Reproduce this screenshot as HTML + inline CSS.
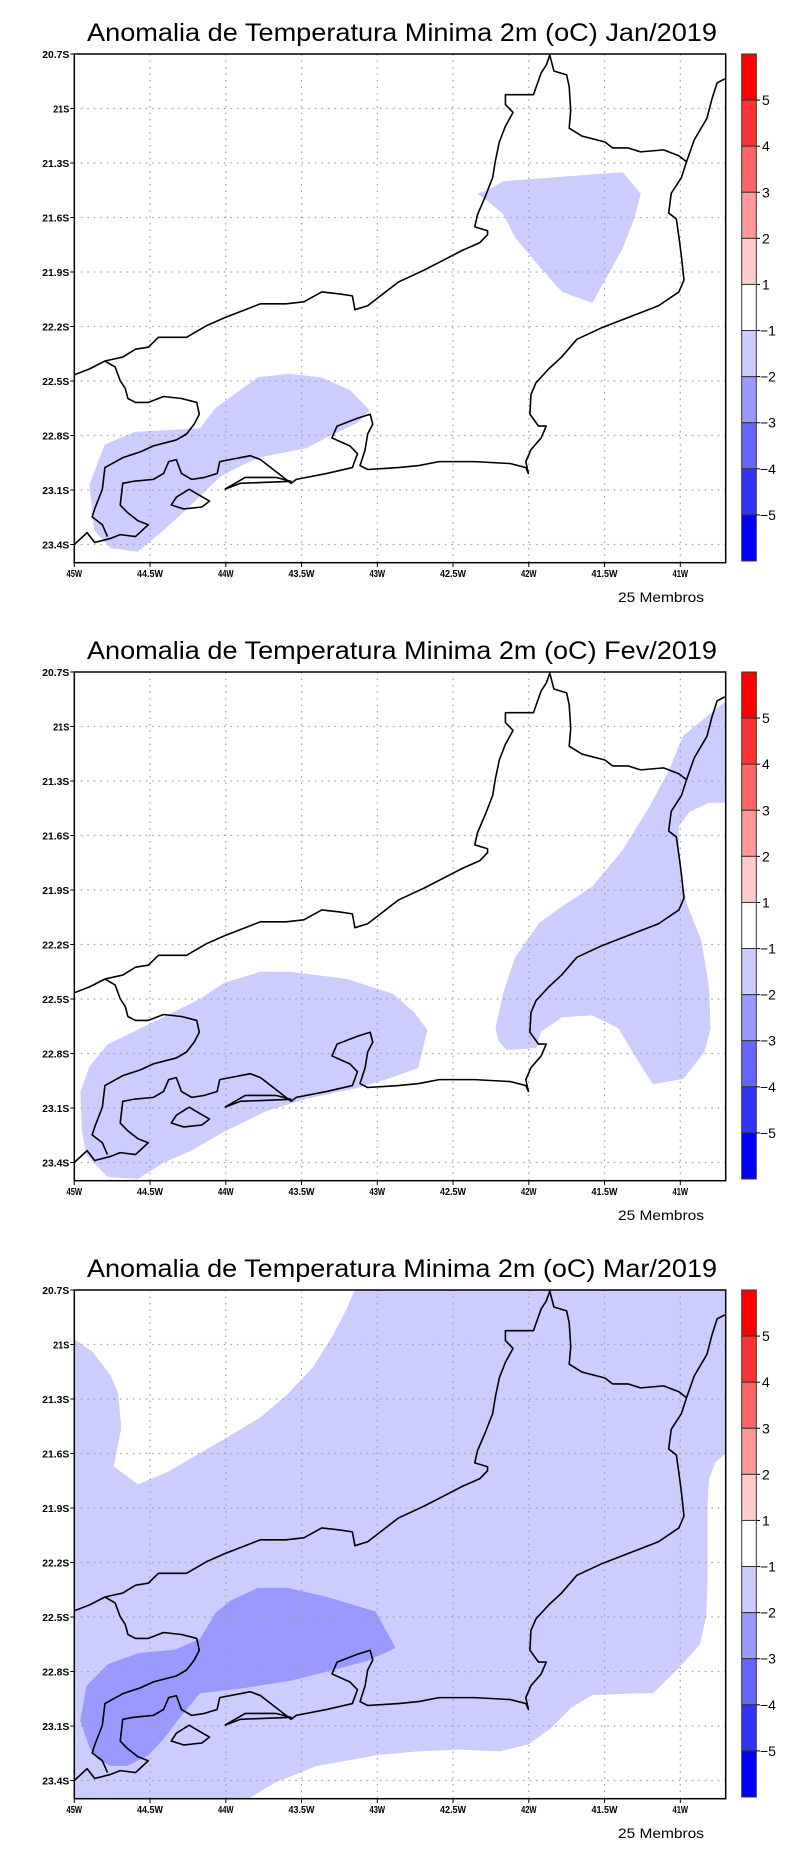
<!DOCTYPE html>
<html><head><meta charset="utf-8"><style>
html,body{margin:0;padding:0;background:#fff;}
svg{display:block;}
</style></head><body>
<svg id="chart" width="800" height="1854" viewBox="0 0 800 1854" xmlns="http://www.w3.org/2000/svg">
<defs>
<clipPath id="frameclip"><rect x="74.3" y="54" width="651.4" height="508.7"/></clipPath>
<g id="basemap" transform="translate(74.3,54) scale(0.5102,0.3946) translate(-145,-137)" fill="none" stroke="#000" stroke-width="1.6" stroke-linejoin="round">
<path vector-effect="non-scaling-stroke" d="M145,950 L175,935 205,915 240,905 265,885 290,880 310,855 365,855 405,825 440,805 490,780 510,770 560,770 595,765 630,740 665,745 690,750 695,785 720,775 745,750 780,715 830,685 875,655 905,635 940,615 955,595 955,585 930,575 935,545 950,500 965,450 970,410 978,360 990,320 1005,285 990,265 990,240 1020,240 1045,240 1060,185 1070,165 1077,140 1085,180 1110,190 1115,220 1118,280 1115,325 1140,345 1185,360 1200,375 1230,375 1255,385 1300,380 1330,395 1345,410 1335,450 1315,490 1310,540 1325,555 1330,600 1335,650 1340,710 1330,740 1290,775 1240,800 1180,830 1130,860 1100,905 1075,935 1050,970 1040,1000 1038,1050 1055,1080 1070,1080 1060,1110 1040,1140 1030,1170 1035,1200 1030,1185 1000,1175 930,1170 860,1170 820,1180 780,1185 720,1190 705,1180 715,1140 720,1100 730,1075 725,1050 700,1060 660,1080 650,1110 685,1130 700,1150 690,1185 640,1200 580,1215 570,1225 540,1195 510,1165 490,1155 470,1160 450,1165 430,1170 425,1200 400,1210 375,1215 355,1200 345,1165 330,1170 320,1200 300,1215 260,1220 240,1225 235,1280 250,1300 270,1320 290,1330 265,1360 235,1355 215,1365 185,1375 170,1350 145,1380"/>
<path vector-effect="non-scaling-stroke" d="M1420,200 L1405,210 1395,250 1385,300 1360,355 1345,410"/>
<path vector-effect="non-scaling-stroke" d="M205,915 L225,930 235,965 245,985 250,1010 265,1020 290,1020 320,1005 355,1010 385,1020 390,1050 380,1075 365,1100 345,1115 300,1130 275,1145 240,1160 205,1185 200,1240 185,1290 180,1310 200,1330 210,1360"/>
<path vector-effect="non-scaling-stroke" d="M440,1240 L460,1225 480,1210 540,1210 570,1220 470,1225 440,1240"/>
<path vector-effect="non-scaling-stroke" d="M345,1260 L370,1240 390,1255 410,1270 395,1285 360,1290 335,1280 Z"/>
</g>
</defs>
</svg>
<script>
// ---- data ----
const months = ["Jan/2019", "Fev/2019", "Mar/2019"];
const levelColors = ["#ccccff", "#9999ff"];
const colorbarColors = ["#ff0000","#ff3333","#ff6666","#ff9999","#ffcccc","#ffffff","#ccccff","#9999ff","#6666ff","#3333ff","#0000ff"];
const colorbarLabels = ["5","4","3","2","1","\u22121","\u22122","\u22123","\u22124","\u22125"];
const lonTicks = [-45,-44.5,-44,-43.5,-43,-42.5,-42,-41.5,-41];
const lonTickLabels = ["45W","44.5W","44W","43.5W","43W","42.5W","42W","41.5W","41W"];
const latTicks = [20.7,21,21.3,21.6,21.9,22.2,22.5,22.8,23.1,23.4];
const latTickLabels = ["20.7S","21S","21.3S","21.6S","21.9S","22.2S","22.5S","22.8S","23.1S","23.4S"];
const janLon1 = [-42.34,-42.27,-42.17,-41.38,-41.26,-41.31,-41.38,-41.48,-41.58,-41.78,-41.92,-42.09,-42.17,-42.27];
const janLat1 = [21.47,21.45,21.40,21.35,21.47,21.62,21.77,21.92,22.07,22.01,21.88,21.71,21.58,21.51];
const janLon2 = [-44.90,-44.80,-44.60,-44.17,-44.07,-43.79,-43.59,-43.37,-43.18,-43.05,-43.13,-43.33,-43.47,-43.77,-43.91,-44.04,-44.19,-44.29,-44.41,-44.58,-44.76,-44.87];
const janLat2 = [23.07,22.85,22.78,22.76,22.65,22.48,22.46,22.48,22.55,22.66,22.73,22.81,22.87,22.92,22.97,23.03,23.15,23.23,23.32,23.44,23.42,23.32];
const fevLon1 = [-44.95,-44.96,-44.90,-44.78,-44.51,-44.17,-44.01,-43.77,-43.57,-43.20,-42.90,-42.76,-42.67,-42.73,-42.93,-43.13,-43.47,-43.74,-44.01,-44.24,-44.41,-44.58,-44.78,-44.92];
const fevLat1 = [23.23,23.01,22.87,22.75,22.64,22.50,22.41,22.35,22.35,22.39,22.47,22.57,22.67,22.88,22.94,22.99,23.05,23.12,23.23,23.34,23.40,23.49,23.48,23.36];
const fevLon2 = [-42.22,-42.17,-42.09,-41.93,-41.78,-41.58,-41.38,-41.21,-41.08,-40.98,-40.79,-40.70,-40.70,-40.81,-40.94,-41.01,-41.01,-40.96,-40.86,-40.81,-40.80,-40.84,-40.98,-41.18,-41.28,-41.41,-41.58,-41.78,-41.92,-41.95,-42.15,-42.20];
const fevLat2 = [22.66,22.47,22.27,22.08,21.99,21.88,21.68,21.45,21.25,21.05,20.92,20.86,21.42,21.42,21.47,21.55,21.75,21.97,22.18,22.44,22.66,22.79,22.94,22.97,22.84,22.66,22.59,22.60,22.68,22.77,22.78,22.73];
const marLon0 = [-45,-40.70,-40.70,-45];
const marLat0 = [20.7,20.7,23.5,23.5];
const marLonW1 = [-45.00,-44.88,-44.76,-44.71,-44.69,-44.74,-44.58,-44.38,-44.01,-43.77,-43.60,-43.43,-43.30,-43.20,-43.15,-45.00];
const marLatW1 = [20.97,21.04,21.17,21.27,21.46,21.67,21.77,21.70,21.52,21.40,21.28,21.13,20.96,20.80,20.70,20.70];
const marLonW2 = [-40.70,-40.77,-40.81,-40.82,-40.82,-40.82,-40.83,-40.87,-41.01,-41.18,-41.28,-41.58,-41.72,-41.85,-42.00,-42.19,-42.46,-42.73,-43.00,-43.40,-43.67,-43.85,-40.70];
const marLatW2 = [21.60,21.65,21.74,21.87,22.04,22.30,22.50,22.65,22.78,22.92,22.92,22.93,23.00,23.11,23.20,23.24,23.23,23.24,23.26,23.32,23.41,23.50,23.50];
const marLon2 = [-44.96,-44.92,-44.78,-44.58,-44.34,-44.17,-44.07,-43.97,-43.79,-43.59,-43.33,-43.01,-42.88,-43.06,-43.33,-43.57,-43.87,-44.17,-44.29,-44.41,-44.51,-44.65,-44.76,-44.85,-44.90];
const marLat2 = [23.07,22.88,22.76,22.70,22.68,22.62,22.48,22.41,22.34,22.34,22.39,22.47,22.67,22.74,22.80,22.85,22.89,22.92,23.04,23.17,23.26,23.32,23.32,23.28,23.22];
const panelShapes = [
  [{lon:janLon1,lat:janLat1,level:0,name:"anomaly-area-north"},{lon:janLon2,lat:janLat2,level:0,name:"anomaly-area-southwest"}],
  [{lon:fevLon1,lat:fevLat1,level:0,name:"anomaly-area-southwest"},{lon:fevLon2,lat:fevLat2,level:0,name:"anomaly-area-east"}],
  [{lon:marLon0,lat:marLat0,level:0,name:"anomaly-area-background"},{lon:marLonW1,lat:marLatW1,level:-1,name:"neutral-area-northwest"},{lon:marLonW2,lat:marLatW2,level:-1,name:"neutral-area-southeast"},{lon:marLon2,lat:marLat2,level:1,name:"anomaly-area-southwest-strong"}]
];
const X0=74.3, PX_PER_DEG_LON=151.5, Y0=54, PX_PER_DEG_LAT=181.67;
function xOf(lon){return X0+(lon+45)*PX_PER_DEG_LON;}
function yOf(latS){return Y0+(latS-20.7)*PX_PER_DEG_LAT;}
const NS="http://www.w3.org/2000/svg";
const svg=document.getElementById("chart");
function mk(tag,attrs,parent){const e=document.createElementNS(NS,tag);for(const k in attrs)e.setAttribute(k,attrs[k]);parent.appendChild(e);return e;}
const FONT='"Liberation Sans", "DejaVu Sans", sans-serif';
const offsets=[0,618,1236];
months.forEach((m,pi)=>{
  const g=mk("g",{transform:"translate(0,"+offsets[pi]+")"},svg);
  
  
  const t=mk("text",{x:87,y:41,"font-family":FONT,"font-size":25,fill:"#000",textLength:630,lengthAdjust:"spacingAndGlyphs"},g);
  t.textContent="Anomalia de Temperatura Minima 2m (oC) "+m;
  
  
  const fills=mk("g",{"clip-path":"url(#frameclip)"},g);
  panelShapes[pi].forEach(s=>{
    const pts=s.lon.map((lo,i)=>xOf(lo).toFixed(1)+","+yOf(s.lat[i]).toFixed(1)).join(" ");
    const p=mk("polygon",{points:pts,fill:s.level<0?"#ffffff":levelColors[s.level]},fills);
    
    
  });
  const grid=mk("g",{stroke:"#a0a0a0","stroke-width":1.2,"stroke-dasharray":"1.5,5"},g);
  
  
  lonTicks.forEach((lo,i)=>{ if(i>0) mk("line",{x1:xOf(lo),x2:xOf(lo),y1:Y0,y2:562.7},grid); });
  latTicks.forEach((la,i)=>{ if(i>0) mk("line",{x1:X0,x2:725.7,y1:yOf(la),y2:yOf(la)},grid); });
  const bm=mk("use",{href:"#basemap","clip-path":"url(#frameclip)"},g);
  
  
  const fr=mk("rect",{x:X0,y:Y0,width:651.4,height:508.7,fill:"none",stroke:"#000","stroke-width":1.5},g);
  
  
  latTicks.forEach((la,i)=>{
    mk("line",{x1:X0-4,x2:X0,y1:yOf(la),y2:yOf(la),stroke:"#000","stroke-width":1},g);
    const l=mk("text",{x:X0-5,y:yOf(la)+4,"text-anchor":"end","font-family":FONT,"font-size":10.5,"font-weight":"bold",fill:"#000",textLength:latTickLabels[i].length*5.4,lengthAdjust:"spacingAndGlyphs"},g);
    l.textContent=latTickLabels[i];
    
    
  });
  lonTicks.forEach((lo,i)=>{
    mk("line",{x1:xOf(lo),x2:xOf(lo),y1:562.7,y2:567,stroke:"#000","stroke-width":1},g);
    const l=mk("text",{x:xOf(lo),y:577,"text-anchor":"middle","font-family":FONT,"font-size":10.5,"font-weight":"bold",fill:"#000",textLength:lonTickLabels[i].length*5.2,lengthAdjust:"spacingAndGlyphs"},g);
    l.textContent=lonTickLabels[i];
    
    
  });
  const mb=mk("text",{x:618,y:602,"font-family":FONT,"font-size":14,fill:"#000",textLength:86,lengthAdjust:"spacingAndGlyphs"},g);
  mb.textContent="25 Membros";
  
  
  const cb=mk("g",{},g);
  
  
  const cbTop=54, cbH=(561-54)/colorbarColors.length;
  colorbarColors.forEach((c,i)=>{
    const r=mk("rect",{x:741.7,y:cbTop+i*cbH,width:14.6,height:cbH,fill:c,stroke:"#333","stroke-width":1},cb);
    
    
  });
  colorbarLabels.forEach((lab,i)=>{
    const yy=cbTop+(i+1)*cbH;
    mk("line",{x1:756.3,x2:760,y1:yy,y2:yy,stroke:"#000","stroke-width":1},cb);
    const l=mk("text",{x:lab.length>1?760:762,y:yy+5,"font-family":FONT,"font-size":14,fill:"#000"},cb);
    l.textContent=lab;
    
    
  });
});
</script>
</body></html>
